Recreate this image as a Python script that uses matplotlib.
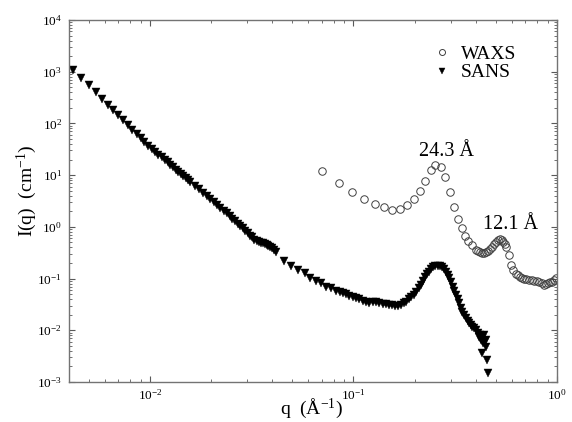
import matplotlib
matplotlib.use('Agg')
import matplotlib.pyplot as plt
from matplotlib.ticker import LogLocator, LogFormatterMathtext, NullFormatter

# SANS data, q in 1/A and intensity in 1/cm
q_sans = [0.0042, 0.0046, 0.0050, 0.0054, 0.0058, 0.0062, 0.0066, 0.0070, 0.0074, 0.0078,
          0.0082, 0.0086, 0.0090, 0.0094, 0.0098, 0.0102, 0.0106, 0.0110, 0.0114, 0.0118,
          0.0122, 0.0126, 0.0130, 0.0134, 0.0138, 0.0142, 0.0146, 0.0150, 0.0154, 0.0158,
          0.0166, 0.0174, 0.0182, 0.0190, 0.0198, 0.0206, 0.0214, 0.0222, 0.0230, 0.0238,
          0.0246, 0.0254, 0.0262, 0.0270, 0.0278, 0.0286, 0.0294, 0.0302, 0.0310, 0.0318,
          0.0326, 0.0334, 0.0342, 0.0350, 0.0358, 0.0366, 0.0374, 0.0382, 0.0390, 0.0398,
          0.0406, 0.0414,
          0.0454, 0.0495, 0.0533, 0.0575, 0.0613, 0.0657, 0.0695, 0.0735, 0.0777, 0.0822,
          0.0855, 0.0886, 0.0920, 0.0956, 0.0993, 0.1031, 0.1070, 0.1111, 0.1153,
          0.1198, 0.1245, 0.1292, 0.1340, 0.1392, 0.1445, 0.1502, 0.1555, 0.1607, 0.1660,
          0.1714, 0.1763, 0.1813, 0.1865, 0.1918, 0.1975, 0.2030, 0.2090, 0.2147, 0.2200,
          0.2253, 0.2305, 0.2358, 0.2410, 0.2467, 0.2530, 0.2589, 0.2655, 0.2721, 0.2785,
          0.2847, 0.2900, 0.2955, 0.3010, 0.3067, 0.3127, 0.3187, 0.3248, 0.3308, 0.3370,
          0.3434, 0.3500, 0.3569, 0.3635, 0.3703, 0.3773, 0.3844, 0.3920, 0.3995, 0.4070,
          0.4146, 0.4186, 0.4227, 0.4260, 0.4303, 0.4340, 0.4386, 0.4420, 0.4471, 0.4471,
          0.4552, 0.4604]
I_sans = [1102, 766, 549, 403, 303, 232, 181, 143, 114, 92.7,
          75.9, 62.7, 52.3, 43.9, 37.2, 32.1, 28.2, 24.9, 22.1, 19.7,
          17.6, 15.8, 14.2, 12.8, 11.6, 10.6, 9.62, 8.78, 8.04, 7.38,
          6.23, 5.31, 4.56, 3.94, 3.42, 2.99, 2.63, 2.32, 2.05, 1.84,
          1.63, 1.44, 1.28, 1.16, 1.02, 0.94, 0.83, 0.77, 0.68, 0.63,
          0.56, 0.53, 0.50, 0.49, 0.48, 0.47, 0.44, 0.43, 0.41, 0.39,
          0.36, 0.33,
          0.220, 0.178, 0.147, 0.127, 0.104, 0.0913, 0.0813, 0.0699, 0.0651, 0.0585,
          0.0550, 0.0521, 0.0492, 0.0468, 0.0440, 0.0417, 0.0395, 0.0375, 0.0358,
          0.0343, 0.0345, 0.0349, 0.0335, 0.0323, 0.0316, 0.0309, 0.0302, 0.0296, 0.0300,
          0.0309, 0.0330, 0.0358, 0.0395, 0.0436, 0.0490, 0.0559, 0.0650, 0.0754, 0.0900,
          0.1063, 0.1210, 0.1364, 0.1520, 0.1660, 0.1740, 0.1781, 0.1750, 0.1660, 0.1520,
          0.1364, 0.1190, 0.1016, 0.0850, 0.0699, 0.0580, 0.0483, 0.0400, 0.0333, 0.0275,
          0.0229, 0.0197, 0.0171, 0.0153, 0.0137, 0.0127, 0.0118, 0.0110, 0.0102, 0.0088,
          0.0075, 0.0082, 0.0065, 0.0070, 0.0036, 0.0058, 0.0081, 0.0062, 0.0065, 0.0048,
          0.0027, 0.0015]

# WAXS data
q_waxs = [0.0703, 0.0845, 0.0981, 0.1123, 0.1272, 0.1414, 0.1553, 0.1700, 0.1833, 0.1975,
          0.2113, 0.2253, 0.2393, 0.2523, 0.2679, 0.2825, 0.2966, 0.3102, 0.3260, 0.3396,
          0.3528, 0.3662, 0.3831, 0.3995, 0.4090, 0.4180, 0.4270, 0.4371, 0.4480, 0.4589,
          0.4690, 0.4786, 0.4900, 0.5006, 0.5120, 0.5237, 0.5340, 0.5436, 0.5540, 0.5642,
          0.5816, 0.5929, 0.6085, 0.6272, 0.6420, 0.6563, 0.6720, 0.6889, 0.7080, 0.7288,
          0.7500, 0.7716, 0.7940, 0.8161, 0.8400, 0.8637, 0.8850, 0.9066, 0.9280, 0.9484,
          0.9700, 0.9922]
I_waxs = [12.1, 7.20, 4.82, 3.48, 2.79, 2.41, 2.13, 2.23, 2.67, 3.44,
          5.04, 7.87, 12.3, 15.4, 14.1, 9.16, 4.76, 2.41, 1.41, 0.956,
          0.669, 0.543, 0.442, 0.359, 0.338, 0.324, 0.318, 0.318, 0.330, 0.348,
          0.380, 0.416, 0.470, 0.519, 0.555, 0.578, 0.560, 0.519, 0.470, 0.416,
          0.283, 0.184, 0.147, 0.123, 0.115, 0.109, 0.103, 0.0985, 0.0960, 0.0942,
          0.0920, 0.0901, 0.0890, 0.0873, 0.0810, 0.0754, 0.0790, 0.0813, 0.0850, 0.0873,
          0.0940, 0.1016]

# peak annotations (label, q, I)
peak_labels = ['24.3 \u00c5', '12.1 \u00c5']
peak_q = [0.2106, 0.434]
peak_I = [23.7, 0.90]

plt.rcParams['font.family'] = ['Liberation Serif', 'DejaVu Serif']
plt.rcParams['mathtext.fontset'] = 'stix'

fig = plt.figure(figsize=(5.72, 4.22), dpi=100)
ax = fig.add_axes([0.1206, 0.0948, 0.8531, 0.8578])

ax.plot(q_waxs, I_waxs, linestyle='none', marker='o', ms=5.4, mfc='none',
        mec='0.25', mew=0.7, label='WAXS')
ax.plot(q_sans, I_sans, linestyle='none', marker='v', ms=5.3, color='black',
        mec='black', mew=0.3, label='SANS')

ax.set_xscale('log')
ax.set_yscale('log')
ax.set_xlim(0.004, 1.0)
ax.set_ylim(1e-3, 1e4)

ax.xaxis.set_major_locator(LogLocator(base=10, numticks=10))
ax.yaxis.set_major_locator(LogLocator(base=10, numticks=12))
ax.xaxis.set_minor_locator(LogLocator(base=10, subs=range(2, 10), numticks=20))
ax.yaxis.set_minor_locator(LogLocator(base=10, subs=range(2, 10), numticks=20))
ax.xaxis.set_major_formatter(LogFormatterMathtext())
ax.yaxis.set_major_formatter(LogFormatterMathtext())
ax.xaxis.set_minor_formatter(NullFormatter())
ax.yaxis.set_minor_formatter(NullFormatter())

ax.tick_params(which='both', direction='in', top=True, right=True,
               colors='0.35', labelcolor='black', labelsize=9.5)
ax.tick_params(which='major', length=4.5, width=0.8)
ax.tick_params(which='minor', length=2.5, width=0.6)
ax.tick_params(axis='y', pad=5)
ax.tick_params(axis='x', pad=4)
for s in ax.spines.values():
    s.set_color('0.45')
    s.set_linewidth(1.0)

ax.set_xlabel('q  (\u00c5$\\mathdefault{^{-1}}$)', fontsize=14)
ax.set_ylabel('I(q)  (cm$\\mathdefault{^{-1}}$)', fontsize=14)
ax.xaxis.set_label_coords(0.496, -0.039)
ax.yaxis.set_label_coords(-0.062, 0.528)

for lab, xq, yi in zip(peak_labels, peak_q, peak_I):
    ax.text(xq, yi, lab, fontsize=14.5, ha='left', va='baseline')

ax.legend(loc='upper left', bbox_to_anchor=(0.728, 0.957), frameon=False,
          fontsize=14, borderpad=0, handlelength=0.8, handletextpad=0.6,
          labelspacing=0.05, markerscale=0.8)

fig.savefig('out.png', dpi=100)
